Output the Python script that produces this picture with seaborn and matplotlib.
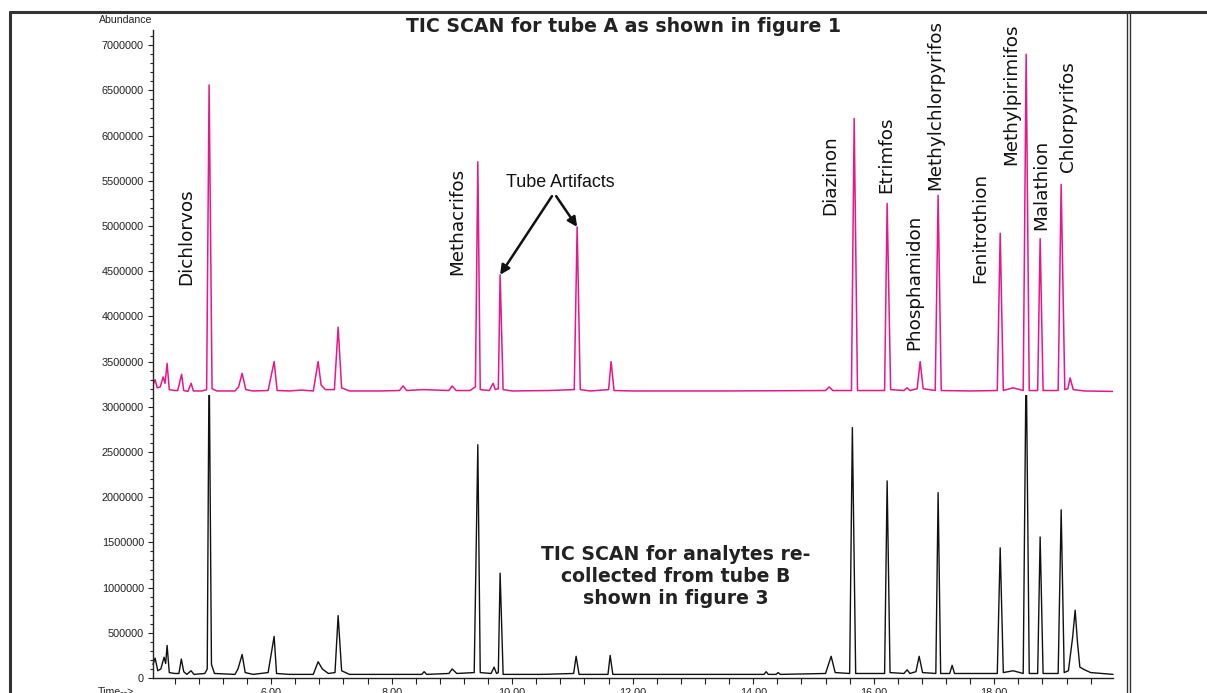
import numpy as np
import pandas as pd
import matplotlib
matplotlib.use("Agg")
import matplotlib.pyplot as plt
import seaborn as sns
from matplotlib.ticker import MultipleLocator, FuncFormatter
from matplotlib.patches import Rectangle
from matplotlib.lines import Line2D

# ---------------- data ----------------
# Upper trace: TIC SCAN tube A (offset trace, abundance values as plotted)
pink_time = [4.04, 4.075, 4.11, 4.16, 4.208, 4.24, 4.274, 4.31, 4.40, 4.45, 4.515, 4.55,
             4.62, 4.672, 4.71, 4.85, 4.93, 4.971, 5.02, 5.10, 5.40, 5.46, 5.519, 5.58,
             5.70, 5.95, 6.05, 6.10, 6.30, 6.50, 6.70, 6.78, 6.83, 6.90, 7.05, 7.112,
             7.17, 7.30, 7.80, 8.13, 8.19, 8.25, 8.522, 8.95, 9.004, 9.07, 9.30, 9.39,
             9.430, 9.47, 9.62, 9.684, 9.72, 9.77, 9.800, 9.85, 10.0, 10.6, 11.03, 11.078,
             11.13, 11.30, 11.60, 11.642, 11.69, 12.0, 13.5, 15.20, 15.26, 15.32, 15.63,
             15.675, 15.73, 16.18, 16.222, 16.28, 16.50, 16.554, 16.60, 16.72, 16.770,
             16.82, 17.02, 17.068, 17.12, 17.60, 18.05, 18.098, 18.15, 18.313, 18.48,
             18.529, 18.58, 18.72, 18.761, 18.81, 19.06, 19.110, 19.17, 19.22, 19.259,
             19.31, 19.50, 19.97]
pink_abund = [3.24e6, 3.30e6, 3.21e6, 3.22e6, 3.33e6, 3.26e6, 3.48e6, 3.19e6, 3.18e6, 3.18e6,
              3.36e6, 3.18e6, 3.17e6, 3.26e6, 3.175e6, 3.175e6, 3.19e6, 6.56e6, 3.20e6,
              3.175e6, 3.175e6, 3.22e6, 3.37e6, 3.19e6, 3.175e6, 3.18e6, 3.50e6, 3.18e6,
              3.175e6, 3.185e6, 3.175e6, 3.50e6, 3.24e6, 3.19e6, 3.19e6, 3.88e6, 3.21e6,
              3.175e6, 3.175e6, 3.18e6, 3.23e6, 3.18e6, 3.19e6, 3.18e6, 3.23e6, 3.18e6,
              3.18e6, 3.22e6, 5.71e6, 3.19e6, 3.18e6, 3.26e6, 3.19e6, 3.20e6, 4.46e6,
              3.19e6, 3.175e6, 3.18e6, 3.19e6, 4.99e6, 3.19e6, 3.175e6, 3.19e6, 3.50e6,
              3.18e6, 3.175e6, 3.175e6, 3.18e6, 3.22e6, 3.18e6, 3.18e6, 6.19e6, 3.18e6,
              3.18e6, 5.25e6, 3.19e6, 3.18e6, 3.21e6, 3.18e6, 3.20e6, 3.50e6, 3.20e6,
              3.18e6, 5.34e6, 3.18e6, 3.175e6, 3.18e6, 4.92e6, 3.18e6, 3.21e6, 3.18e6,
              6.90e6, 3.18e6, 3.18e6, 4.86e6, 3.18e6, 3.18e6, 5.46e6, 3.19e6, 3.20e6,
              3.32e6, 3.19e6, 3.175e6, 3.17e6]

# Lower trace: TIC SCAN analytes re-collected from tube B
black_time = [4.04, 4.075, 4.12, 4.17, 4.224, 4.25, 4.274, 4.31, 4.40, 4.47, 4.51, 4.55,
              4.60, 4.672, 4.72, 4.90, 4.94, 4.971, 5.01, 5.06, 5.40, 5.45, 5.519, 5.57,
              5.70, 5.95, 6.05, 6.09, 6.30, 6.70, 6.78, 6.85, 6.95, 7.06, 7.112, 7.17,
              7.30, 8.50, 8.539, 8.58, 8.95, 9.004, 9.08, 9.37, 9.430, 9.47, 9.65, 9.70,
              9.74, 9.77, 9.800, 9.85, 10.5, 11.02, 11.061, 11.11, 11.59, 11.626, 11.67,
              14.18, 14.214, 14.25, 14.38, 14.413, 14.45, 15.20, 15.293, 15.36, 15.60,
              15.645, 15.70, 16.18, 16.222, 16.27, 16.50, 16.554, 16.60, 16.70, 16.753,
              16.81, 17.03, 17.068, 17.11, 17.26, 17.301, 17.34, 18.05, 18.098, 18.15,
              18.313, 18.48, 18.529, 18.58, 18.72, 18.761, 18.81, 19.06, 19.110, 19.16,
              19.23, 19.30, 19.342, 19.38, 19.42, 19.50, 19.60, 19.97]
black_abund = [0.15e6, 0.22e6, 0.08e6, 0.10e6, 0.23e6, 0.16e6, 0.36e6, 0.06e6, 0.05e6,
               0.05e6, 0.21e6, 0.07e6, 0.04e6, 0.08e6, 0.04e6, 0.05e6, 0.10e6, 3.60e6,
               0.15e6, 0.05e6, 0.04e6, 0.10e6, 0.26e6, 0.06e6, 0.04e6, 0.06e6, 0.46e6,
               0.05e6, 0.04e6, 0.04e6, 0.18e6, 0.10e6, 0.05e6, 0.06e6, 0.69e6, 0.08e6,
               0.04e6, 0.04e6, 0.07e6, 0.04e6, 0.05e6, 0.10e6, 0.05e6, 0.06e6, 2.58e6,
               0.06e6, 0.05e6, 0.12e6, 0.05e6, 0.06e6, 1.16e6, 0.04e6, 0.04e6, 0.05e6,
               0.24e6, 0.04e6, 0.04e6, 0.25e6, 0.04e6, 0.04e6, 0.07e6, 0.04e6, 0.04e6,
               0.06e6, 0.04e6, 0.05e6, 0.24e6, 0.06e6, 0.05e6, 2.77e6, 0.05e6, 0.05e6,
               2.18e6, 0.06e6, 0.05e6, 0.09e6, 0.05e6, 0.07e6, 0.24e6, 0.06e6, 0.05e6,
               2.05e6, 0.05e6, 0.05e6, 0.14e6, 0.05e6, 0.05e6, 1.44e6, 0.06e6, 0.08e6,
               0.05e6, 3.60e6, 0.05e6, 0.05e6, 1.56e6, 0.05e6, 0.05e6, 1.86e6, 0.06e6,
               0.08e6, 0.45e6, 0.75e6, 0.40e6, 0.12e6, 0.09e6, 0.06e6, 0.04e6]

compound_names = ["Dichlorvos", "Methacrifos", "Diazinon", "Etrimfos", "Phosphamidon",
                  "Methylchlorpyrifos", "Fenitrothion", "Methylpirimifos", "Malathion",
                  "Chlorpyrifos"]
label_time = [4.589, 9.087, 15.277, 16.206, 16.670, 17.019, 17.766, 18.280, 18.778, 19.226]
label_abund = [4.347e6, 4.458e6, 5.122e6, 5.365e6, 3.628e6, 5.398e6, 4.369e6, 5.675e6,
               4.956e6, 5.597e6]

y_ticks = [0, 500000, 1000000, 1500000, 2000000, 2500000, 3000000, 3500000, 4000000,
           4500000, 5000000, 5500000, 6000000, 6500000, 7000000]
x_tick_labels = ["6.00", "8.00", "10.00", "12.00", "14.00", "16.00", "18.00"]

# ---------------- figure ----------------
sns.set_theme(style="white")
plt.rcParams["font.family"] = ["DejaVu Sans"]

W, H = 1207, 693
fig = plt.figure(figsize=(W / 100, H / 100), dpi=100)
fig.patch.set_facecolor("white")

def fx(px):
    return px / W

def fy(py):
    return 1 - py / H

ax = fig.add_axes([fx(153), fy(678), fx(1113) - fx(153), fy(30) - fy(678)])
ax.set_facecolor("white")

pink_df = pd.DataFrame({"time": pink_time, "abundance": pink_abund})
black_df = pd.DataFrame({"time": black_time, "abundance": black_abund})

sns.lineplot(data=black_df, x="time", y="abundance", ax=ax, color="#111111",
             linewidth=1.0, sort=False, estimator=None)
black_line = ax.lines[-1]
clip = Rectangle((3.5, -2e5), 17.0, 3.13e6 + 2e5, transform=ax.transData)
black_line.set_clip_path(clip)

sns.lineplot(data=pink_df, x="time", y="abundance", ax=ax, color="#e8168a",
             linewidth=1.1, sort=False, estimator=None)

ax.set_xlim(4.04, 19.97)
ax.set_ylim(0, 7.168e6)
ax.set_xlabel("")
ax.set_ylabel("")

for s in ["top", "right"]:
    ax.spines[s].set_visible(False)
for s in ["left", "bottom"]:
    ax.spines[s].set_color("#222222")
    ax.spines[s].set_linewidth(1.0)

ax.set_yticks(y_ticks)
ax.yaxis.set_minor_locator(MultipleLocator(100000))
ax.yaxis.set_major_formatter(FuncFormatter(lambda v, p: f"{int(round(v))}"))
ax.set_xticks([6, 8, 10, 12, 14, 16, 18])
ax.set_xticklabels(x_tick_labels)
ax.xaxis.set_minor_locator(MultipleLocator(0.4))

ax.tick_params(axis="y", which="major", direction="out", length=3.5, width=0.8,
               color="#222222", labelsize=7.8, labelcolor="#222222", pad=3, left=True)
ax.tick_params(axis="y", which="minor", direction="out", length=2.5, width=0.8,
               color="#222222", left=True)
ax.tick_params(axis="x", which="both", direction="out", length=4.5, width=0.8,
               color="#222222", labelsize=7.8, labelcolor="#222222", pad=3, bottom=True)
for lab in ax.get_yticklabels() + ax.get_xticklabels():
    lab.set_fontfamily("Liberation Sans")

# compound labels
for name, t, v in zip(compound_names, label_time, label_abund):
    ax.text(t, v, name, rotation=90, ha="center", va="bottom", fontsize=13.2,
            color="#111111", family="DejaVu Sans")

# tube artifacts annotation
ax.text(10.796, 5.476e6, "Tube Artifacts", ha="center", va="center", fontsize=12.9,
        family="Liberation Sans", color="#111111")
arrow_kw = dict(arrowstyle="-|>", lw=1.8, color="#111111", mutation_scale=14,
                shrinkA=0, shrinkB=0)
ax.annotate("", xy=(9.80, 4.46e6), xytext=(10.66, 5.33e6), arrowprops=arrow_kw)
ax.annotate("", xy=(11.078, 4.99e6), xytext=(10.73, 5.33e6), arrowprops=arrow_kw)

# titles
fig.text(fx(624), fy(27), "TIC SCAN for tube A as shown in figure 1", ha="center",
         va="center", fontsize=13.6, fontweight="bold", color="#222222",
         family="DejaVu Sans")
fig.text(fx(676), fy(576), "TIC SCAN for analytes re-\ncollected from tube B\nshown in figure 3",
         ha="center", va="center", fontsize=13.6, fontweight="bold", color="#222222",
         family="DejaVu Sans", linespacing=1.2)

# axis captions
fig.text(fx(152), fy(20), "Abundance", ha="right", va="center", fontsize=7.6,
         color="#222222", family="Liberation Sans")
fig.text(fx(98), fy(687), "Time-->", ha="left", va="top", fontsize=7.6,
         color="#222222", family="Liberation Sans")

# outer frame
frame_kw = dict(transform=fig.transFigure, color="#333333")
fig.add_artist(Line2D([fx(10), fx(10)], [fy(12), 0], lw=2.2, **frame_kw))
fig.add_artist(Line2D([fx(10), 1], [fy(12), fy(12)], lw=2.2, **frame_kw))
fig.add_artist(Line2D([fx(1126.5), fx(1126.5)], [fy(12), 0], lw=1.0, **frame_kw))
fig.add_artist(Line2D([fx(1129.5), fx(1129.5)], [fy(12), 0], lw=1.0, **frame_kw))

fig.savefig("out.png", dpi=100, facecolor="white")
